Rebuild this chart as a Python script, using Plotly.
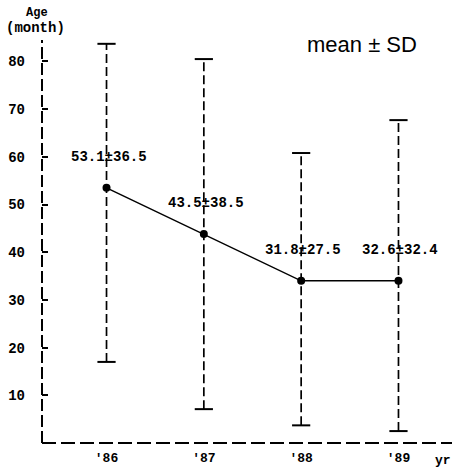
import plotly.graph_objects as go

years = ["'86", "'87", "'88", "'89"]
means = [53.5, 43.8, 34.0, 34.0]
upper = [83.7, 80.5, 60.8, 67.7]
lower = [17.0, 7.1, 3.7, 2.5]
labels = ["53.1±36.5", "43.5±38.5", "31.8±27.5", "32.6±32.4"]
y_ticks = [10, 20, 30, 40, 50, 60, 70, 80]

FONT = "Liberation Mono"
fig = go.Figure()

# dashed whiskers
for yr, lo, hi in zip(years, lower, upper):
    fig.add_trace(go.Scatter(x=[yr, yr], y=[lo, hi], mode="lines",
                             line=dict(color="black", width=1.7, dash="9px,4px"),
                             showlegend=False, hoverinfo="skip"))
# caps
fig.add_trace(go.Scatter(x=years + years, y=upper + lower, mode="markers",
                         marker=dict(symbol="line-ew", size=13,
                                     line=dict(color="black", width=2)),
                         showlegend=False, hoverinfo="skip"))
# mean line
fig.add_trace(go.Scatter(x=years, y=means, mode="lines+markers",
                         line=dict(color="black", width=1.5),
                         marker=dict(color="black", size=8),
                         showlegend=False))

for yr, m, lab in zip(years, means, labels):
    fig.add_annotation(x=yr, y=m, text=lab, showarrow=False, yshift=31, xshift=2,
                       xanchor="center", yanchor="middle",
                       font=dict(family=FONT, size=14, color="black", weight="bold"))

# dashed axis lines
fig.add_shape(type="line", xref="x domain", yref="y domain", x0=0, x1=0, y0=0, y1=1,
              line=dict(color="black", width=2, dash="12px,4px"))
fig.add_shape(type="line", xref="x domain", yref="y domain", x0=0, x1=1, y0=0, y1=0,
              line=dict(color="black", width=2, dash="14px,5px"))

def note(x, y, text, size, family=FONT):
    fig.add_annotation(xref="paper", yref="paper", x=x, y=y, text=text, showarrow=False,
                       xanchor="center", yanchor="middle",
                       font=dict(family=family, size=size, color="black"))

note(-0.012, 1.066, "<b>Age</b>", 12)
note(-0.017, 1.03, "<b>(month)</b>", 14)
note(0.781, 0.9876, "mean ± SD", 22, "Liberation Sans")
note(0.978, -0.043, "<b>yr</b>", 13)

fig.update_xaxes(type="category", range=[-0.663, 3.55], showline=False, showgrid=False,
                 zeroline=False, ticks="", ticklabelstandoff=5,
                 tickfont=dict(family=FONT, size=13, color="black", weight="bold"))
fig.update_yaxes(range=[0, 84.5], tickvals=y_ticks, showline=False, showgrid=False,
                 zeroline=False, ticks="inside", ticklen=6, tickwidth=1.5,
                 tickcolor="black", ticklabelstandoff=16,
                 tickfont=dict(family=FONT, size=14, color="black", weight="bold"))
fig.update_layout(width=452, height=467, margin=dict(l=42, r=0, t=40, b=24, autoexpand=False),
                  plot_bgcolor="white", paper_bgcolor="white")
fig.write_html("out.html", config={"displayModeBar": False},
               post_script="document.body.style.margin='0';document.body.style.overflow='hidden';")
